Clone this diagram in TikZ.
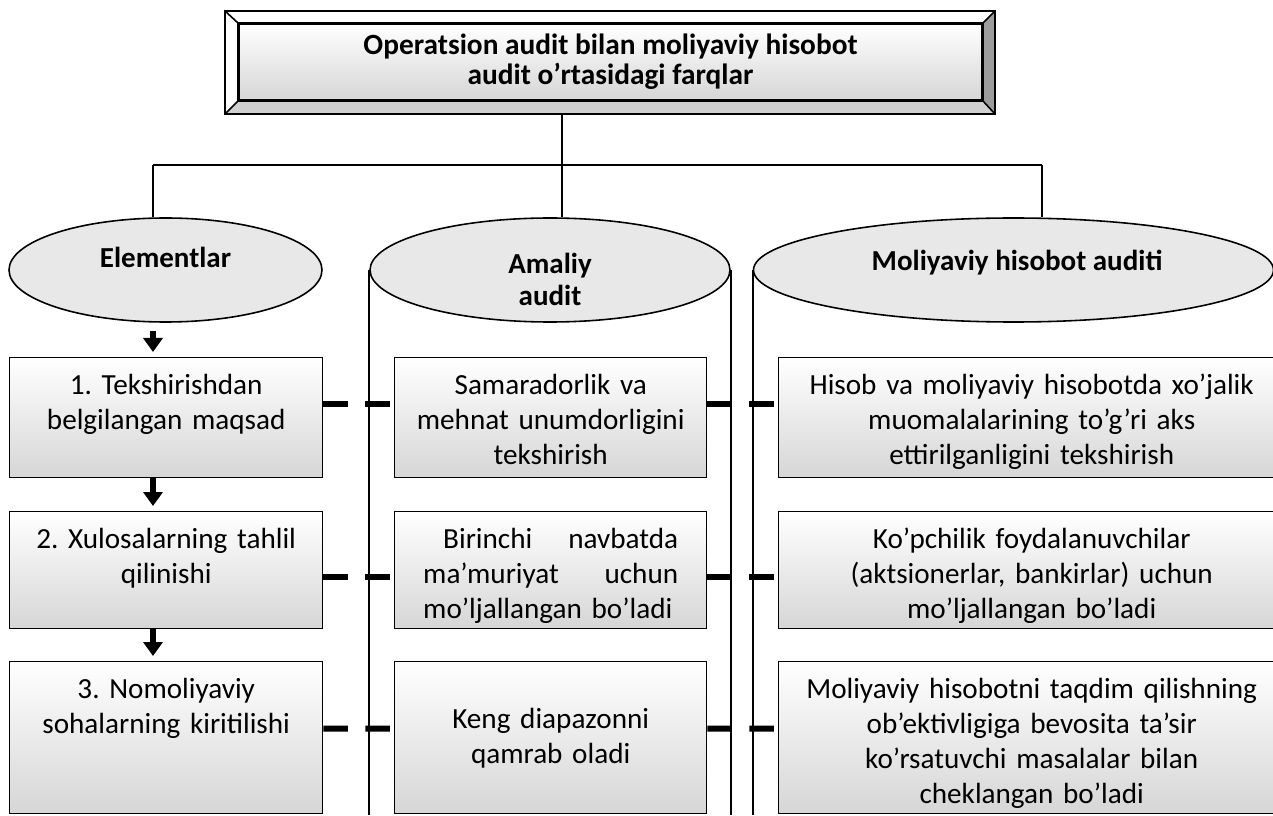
\documentclass[tikz,border=0pt]{standalone}
\usepackage{fontspec}
\setmainfont{Carlito}
\usetikzlibrary{arrows.meta, positioning, calc, shapes.geometric}
\definecolor{rim}{HTML}{000000}
\definecolor{bevdark}{HTML}{9C9C9C}
\definecolor{bevlight}{HTML}{D0D0D0}
\definecolor{ovalfill}{HTML}{E8E8E8}
\definecolor{shadebot}{HTML}{D6D6D6}
\frenchspacing

\begin{document}
\begin{tikzpicture}[
    every node/.style={font=\fontsize{16.6}{19.9}\selectfont},
    head/.style={
        rectangle, draw=rim, line width=1pt, top color=white, bottom color=shadebot,
        minimum width=14.86cm, minimum height=1.52cm, align=center,
        font=\fontsize{16.7}{17}\selectfont\bfseries,
    },
    oval/.style={ellipse, draw=rim, line width=0.9pt, fill=ovalfill, inner sep=0pt, minimum height=2.08cm},
    ovaltxt/.style={align=center, inner sep=0pt, font=\fontsize{16.5}{18.2}\selectfont\bfseries},
    cell/.style={
        rectangle, draw=rim, line width=0.8pt, top color=white, bottom color=shadebot,
        anchor=north west, inner xsep=0.1cm, inner ysep=0pt, text height=0.74cm, align=center,
    },
    leftcol/.style={cell, text width=6.06cm},
    midcol/.style={cell, text width=6.04cm},
    rightcol/.style={cell, text width=9.92cm},
    rowa/.style={text depth=1.66cm},
    rowb/.style={text depth=1.60cm},
    rowc/.style={text depth=2.30cm},
    wire/.style={line width=0.9pt, color=rim},
    flow/.style={-{Triangle[width=0.38cm, length=0.28cm]}, line width=0.12cm, shorten >=0.1cm},
    link/.style={line width=0.12cm, dash pattern=on 0.49cm off 0.35cm on 0.49cm off 2cm},
]
\useasboundingbox (0,0) rectangle (25.46,16.30);
\clip (0,0) rectangle (25.46,16.30);

% ============================================================ the title plate
\node[head] (title) at (12.21,15.06)
    {Operatsion audit bilan moliyaviy hisobot\\ audit o’rtasidagi farqlar};
\coordinate (onw) at (4.50,16.08);
\coordinate (one) at (19.90,16.08);
\coordinate (osw) at (4.50,14.02);
\coordinate (ose) at (19.90,14.02);
\fill[white] (onw) -- (one) -- (title.north east) -- (title.north west) -- cycle;
\fill[white] (onw) -- (title.north west) -- (title.south west) -- (osw) -- cycle;
\fill[bevdark] (one) -- (ose) -- (title.south east) -- (title.north east) -- cycle;
\fill[bevlight] (osw) -- (title.south west) -- (title.south east) -- (ose) -- cycle;
\draw[wire, line width=1.1pt] (onw) rectangle (ose);
\draw[wire, line width=1pt] (title.north west) rectangle (title.south east);
\foreach \c/\k in {onw/north west, one/north east, osw/south west, ose/south east}
    \draw[wire] (\c) -- (title.\k);

% ============================================================ the bus
\coordinate (hub) at (11.24,13.00);
\coordinate (jl) at (3.06,13.00);
\coordinate (jr) at (20.84,13.00);
\draw[wire] (hub |- osw) -- (hub);
\draw[wire] (jl) -- (jr);

% ============================================================ the three heads
\node[oval, minimum width=6.26cm] (e1) at (3.31,10.90) {};
\node[oval, minimum width=7.20cm] (e2) at (11.00,10.90) {};
\node[oval, minimum width=10.40cm] (e3) at (20.27,10.90) {};
\node[ovaltxt, anchor=base] (t1) at (3.31,10.94) {Elementlar};
\node[ovaltxt] (t2) at (11.00,10.72) {Amaliy\\ audit};
\node[ovaltxt, anchor=base] (t3) at (20.34,10.88) {Moliyaviy hisobot auditi};

\draw[wire] (jl) -- (jl |- e1.north);
\draw[wire] (hub) -- (hub |- e2.north);
\draw[wire] (jr) -- (jr |- e3.north);

% the sides of the two columns
\draw[wire] (e2.west) -- (e2.west |- 0,0);
\draw[wire] (e2.east) -- (e2.east |- 0,0);
\draw[wire] (e3.west) -- (e3.west |- 0,0);

% ============================================================ row 1
\node[leftcol, rowa] (l1) at (0.18,9.16) {1. Tekshirishdan\\ belgilangan maqsad};
\node[midcol, rowa] (m1) at (7.88,9.16) {Samaradorlik va\\ mehnat unumdorligini\\ tekshirish};
\node[rightcol, rowa] (r1) at (15.56,9.16)
    {Hisob va moliyaviy hisobotda xo’jalik\\ muomalalarining to’g’ri aks\\ ettirilganligini tekshirish};

% ============================================================ row 2
\node[leftcol, rowb] (l2) at (0.18,6.08) {2. Xulosalarning tahlil\\ qilinishi};
\node[midcol, rowb] (m2) at (7.88,6.08)
    {\parbox[t]{5.1cm}{\hspace*{0.40cm}Birinchi\hfill navbatda\\ ma’muriyat\hfill uchun\\ \mbox{mo’ljallangan bo’ladi}}};
\node[rightcol, rowb] (r2) at (15.56,6.08)
    {Ko’pchilik foydalanuvchilar\\ (aktsionerlar, bankirlar) uchun\\ mo’ljallangan bo’ladi};

% ============================================================ row 3
\node[leftcol, rowc] (l3) at (0.18,3.08) {3. Nomoliyaviy\\ sohalarning kiritilishi};
\node[midcol, text height=1.34cm, text depth=1.70cm] (m3) at (7.88,3.08)
    {Keng diapazonni\\ qamrab oladi};
\node[rightcol, rowc] (r3) at (15.56,3.08)
    {Moliyaviy hisobotni taqdim qilishning\\ ob’ektivligiga bevosita ta’sir\\ ko’rsatuvchi masalalar bilan\\ cheklangan bo’ladi};

% ============================================================ arrows down the left
\draw[flow, shorten <=0.16cm] (jl |- e1.south) -- (jl |- l1.north);
\draw[flow] (jl |- l1.south) -- (jl |- l2.north);
\draw[flow] (jl |- l2.south) -- (jl |- l3.north);

% the broken links across each row
\foreach \a/\b/\c/\s in {l1/m1/r1/0.28, l2/m2/r2/-0.13, l3/m3/r3/0.18}{
    \draw[link] ([yshift=\s cm]\a.east) -- ([yshift=\s cm]\b.west);
    \draw[link] ([yshift=\s cm]\b.east) -- ([yshift=\s cm]\c.west);
}

\end{tikzpicture}
\end{document}
